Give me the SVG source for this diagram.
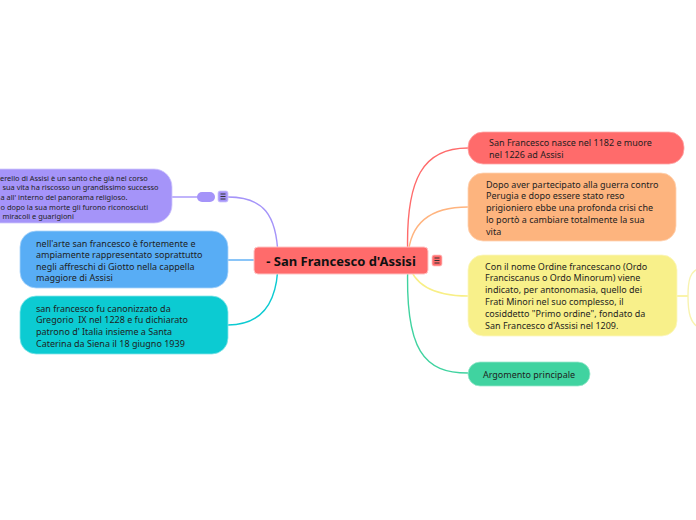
<svg xmlns="http://www.w3.org/2000/svg" width="696" height="520" viewBox="0 0 696 520">
<style>
text{font-family:"Noto Sans","Open Sans","DejaVu Sans",sans-serif;fill:#1e1e1e;font-size:9px}
.c{fill:none;stroke-width:1.4}
.sm{font-size:7.4px}
.title{font-size:13px;font-weight:bold;fill:#111}
.ic{stroke:#333;stroke-width:1}
.pre{white-space:pre}
</style>
<rect width="696" height="520" fill="#ffffff"/>
<g id="connectors">
<path class="c" stroke="#ff6b6b" d="M408 261 C404 175 425 148 468 148"/>
<path class="c" stroke="#ffb47f" d="M408 261 C408 222 432 207 468 207"/>
<path class="c" stroke="#f8ef86" d="M408 261 C413 286 436 296 468 296"/>
<path class="c" stroke="#40d3a0" d="M408 261 C404 352 425 373 468 373"/>
<path class="c" stroke="#a594f9" d="M278 261 C278 213 262 197 228 197"/>
<path class="c" stroke="#58adf5" d="M228 260 L256 260"/>
<path class="c" stroke="#0ccbd2" d="M278 261 C278 302 262 325 228 325"/>
<path class="c" stroke="#f8ef86" d="M677 296 L688 296"/>
<path class="c" stroke="#f8f3b0" d="M688 296 C688 280 690 271 700 268 M688 296 C688 312 690 324 700 328"/>
<path class="c" stroke="#a594f9" d="M172 197 L198 197"/>
</g>
<g id="center">
<rect x="254" y="247" width="174" height="27" rx="4" fill="#ff6b6b" stroke="#ffc4c4" stroke-width="1"/>
<text class="title" x="341" y="265.5" text-anchor="middle">- San Francesco d'Assisi</text>
<rect x="432" y="255" width="10" height="11" rx="2" fill="#ff6b6b" stroke="#ffc4c4" stroke-width="0.8"/>
<path class="ic" d="M434.5 258 H439.5 M434.5 260.5 H439.5 M434.5 263 H439.5"/>
</g>
<g id="n1">
<rect x="468" y="132" width="216" height="32" rx="15" fill="#ff6b6b" stroke="#ffa8a8" stroke-width="0.8"/>
<text x="489" y="146"><tspan x="489">San Francesco nasce nel 1182 e muore</tspan><tspan x="489" y="158.3">nel 1226 ad Assisi</tspan></text>
</g>
<g id="n2">
<rect x="468" y="173" width="208" height="68" rx="15" fill="#fdb47e" stroke="#ffd3b3" stroke-width="0.8"/>
<text x="486" y="187.5"><tspan x="486">Dopo aver partecipato alla guerra contro</tspan><tspan x="486" y="199.3">Perugia e dopo essere stato reso</tspan><tspan x="486" y="211.1">prigioniero ebbe una profonda crisi che</tspan><tspan x="486" y="222.9">lo portò a cambiare totalmente la sua</tspan><tspan x="486" y="234.7">vita</tspan></text>
</g>
<g id="n3">
<rect x="468" y="255" width="209" height="81" rx="15" fill="#f8f08a" stroke="#fbf6c0" stroke-width="0.8"/>
<text x="485" y="269.5"><tspan x="485">Con il nome Ordine francescano (Ordo</tspan><tspan x="485" y="281.3">Franciscanus o Ordo Minorum) viene</tspan><tspan x="485" y="293.1">indicato, per antonomasia, quello dei</tspan><tspan x="485" y="304.9">Frati Minori nel suo complesso, il</tspan><tspan x="485" y="316.7">cosiddetto "Primo ordine", fondato da</tspan><tspan x="485" y="328.5">San Francesco d'Assisi nel 1209.</tspan></text>
</g>
<g id="n4">
<rect x="468" y="362" width="122" height="24" rx="12" fill="#40d3a0" stroke="#9be9cd" stroke-width="0.8"/>
<text x="529" y="377.5" text-anchor="middle">Argomento principale</text>
</g>
<g id="n5">
<rect x="-30" y="169" width="202" height="54" rx="18" fill="#a594f9" stroke="#cfc6fc" stroke-width="0.8"/>
<text class="sm" x="0" y="180.5"><tspan x="0">erello di Assisi è un santo che già nel corso</tspan><tspan x="2.5" y="190.2">sua vita ha riscosso un grandissimo successo</tspan><tspan x="0.5" y="199.9">a all' interno del panorama religioso.</tspan><tspan x="0.5" y="209.6">o dopo la sua morte gli furono riconosciuti</tspan><tspan x="2.5" y="219.3">miracoli e guarigioni</tspan></text>
<rect x="197" y="192" width="18" height="10" rx="5" fill="#a594f9"/>
<rect x="218" y="191" width="10" height="11" rx="2" fill="#a594f9" stroke="#cfc6fc" stroke-width="0.8"/>
<path class="ic" d="M220.5 194 H225.5 M220.5 196.5 H225.5 M220.5 199 H225.5"/>
</g>
<g id="n6">
<rect x="20" y="231" width="208" height="57" rx="16" fill="#58adf5" stroke="#a9d4fa" stroke-width="0.8"/>
<text x="36" y="246.5"><tspan x="36">nell'arte san francesco è fortemente e</tspan><tspan x="36" y="258">ampiamente rappresentato soprattutto</tspan><tspan x="36" y="269.5">negli affreschi di Giotto nella cappella</tspan><tspan x="36" y="281">maggiore di Assisi</tspan></text>
</g>
<g id="n7">
<rect x="20" y="296" width="208" height="58" rx="16" fill="#0ccbd2" stroke="#86e5e8" stroke-width="0.8"/>
<text x="36" y="311.5"><tspan x="36">san francesco fu canonizzato da</tspan><tspan class="pre" x="36" y="323.2">Gregorio  IX nel 1228 e fu dichiarato</tspan><tspan x="36" y="334.9">patrono d' Italia insieme a Santa</tspan><tspan x="36" y="346.6">Caterina da Siena il 18 giugno 1939</tspan></text>
</g>
</svg>
